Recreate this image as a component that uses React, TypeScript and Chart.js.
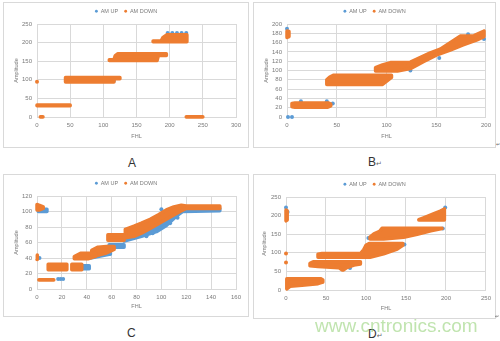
import React, { useEffect, useRef } from 'react';
import { Chart, registerables } from 'chart.js';

Chart.register(...registerables);

type Pt = [number, number];

const SERIES = ['AM UP', 'AM DOWN'];
const X_TITLE = 'FHL';
const Y_TITLE = 'Amplitude';

// ---------- Panel A ----------
const A_X_TICKS = [0, 50, 100, 150, 200, 250, 300];
const A_Y_TICKS = [0, 50, 100, 150, 200, 250];
const A_DOWN_BANDS: Pt[][] = [
  [[0, 30], [0, 32], [50, 32], [50, 30]],
  [[5, 0], [5, 0.5], [9, 0.5], [9, 0]],
  [[43, 94], [43, 106], [125, 106], [125, 103], [116, 103], [116, 94]],
  [[109, 152], [109, 154], [116, 154], [118, 165], [122, 170], [195, 170], [195, 165], [183, 165], [181, 152]],
  [[175, 202], [175, 204], [187, 204], [190, 214], [196, 221], [226, 221], [226, 202]],
  [[225, 0], [225, 0.5], [250, 0.5], [250, 0]],
];
const A_DOWN_DOTS: Pt[] = [[0, 95]];
const A_UP_BANDS: Pt[][] = [
  [[44, 96], [44, 104], [116, 104], [116, 96]],
];
const A_UP_DOTS: Pt[] = [[197, 226], [204, 226], [211, 226], [218, 226], [225, 226]];

// ---------- Panel B ----------
const B_X_TICKS = [0, 50, 100, 150, 200];
const B_Y_TICKS = [0, 20, 40, 60, 80, 100, 120, 140, 160, 180, 200];
const B_DOWN_BANDS: Pt[][] = [
  [[0, 171], [0, 185], [2, 184], [2, 173]],
  [[5, 22], [5, 29], [8, 30], [42, 30], [44, 28], [44, 24], [41, 21], [8, 21]],
  [[40, 70], [40, 80], [43, 86], [47, 90], [105, 90], [105, 85], [96, 70]],
  [[89, 99], [89, 106], [96, 112], [104, 117], [124, 118], [144, 138], [154, 146], [159, 153], [174, 174], [188, 175],
   [198, 185], [198, 173], [191, 166], [177, 155], [164, 144], [150, 133], [137, 119], [124, 104], [111, 99]],
];
const B_DOWN_DOTS: Pt[] = [];
const B_UP_BANDS: Pt[][] = [];
const B_UP_DOTS: Pt[] = [[1, 0], [5, 0], [0, 190], [14, 34], [40, 34], [46, 29], [124, 100], [153, 127], [198, 168], [182, 178]];

// ---------- Panel C ----------
const C_X_TICKS = [0, 20, 40, 60, 80, 100, 120, 140, 160];
const C_Y_TICKS = [0, 20, 40, 60, 80, 100, 120];
const C_DOWN_BANDS: Pt[][] = [
  [[0, 102], [0, 109], [2, 108], [5, 106], [5, 104], [2, 102]],
  [[0, 38], [0, 44], [0.5, 44], [0.5, 38]],
  [[1.5, 11.5], [1.5, 12], [13.5, 12], [13.5, 11.5]],
  [[9, 25], [9, 32], [24, 32], [24, 25]],
  [[28, 25], [28, 32], [36, 32], [36, 25]],
  [[30, 39], [30, 42], [35, 46], [47, 46], [47, 42], [41, 39]],
  [[44, 43], [44, 50], [49, 54], [56, 55], [62, 55], [62, 51], [55, 46], [48, 43]],
  [[57, 63], [57, 70], [70, 70], [70, 63]],
  [[71, 66], [71, 77], [78, 81], [84, 85], [91, 90], [98, 96], [104, 102], [110, 106], [116, 108], [120, 107], [147, 107],
   [147, 104], [120, 104], [115, 100], [104, 90], [91, 78], [84, 72], [78, 68]],
];
const C_DOWN_DOTS: Pt[] = [];
const C_UP_BANDS: Pt[][] = [
  [[1, 100], [1, 103], [8, 103], [8, 100]],
  [[36, 26], [36, 30], [42, 30], [42, 26]],
  [[43, 40], [43, 43], [59, 48], [59, 45]],
  [[58, 54], [58, 57], [70, 57], [70, 54]],
  [[70, 62], [84, 68], [96, 74], [104, 82], [112, 94], [117, 100], [147, 101], [147, 104], [116, 104], [108, 96],
   [100, 88], [90, 80], [80, 74], [70, 68]],
];
const C_UP_DOTS: Pt[] = [[2, 40], [17, 13], [19, 13], [21, 13], [88, 68], [93, 72], [100, 103], [107, 85], [113, 92]];

// ---------- Panel D ----------
const D_X_TICKS = [0, 50, 100, 150, 200, 250];
const D_Y_TICKS = [0, 50, 100, 150, 200, 250];
const D_DOWN_BANDS: Pt[][] = [
  [[0, 186], [0, 215], [1.5, 213], [1.5, 188]],
  [[1, 3], [1, 30], [10, 30], [44, 30], [46, 27], [46, 21], [40, 17], [20, 13], [5, 10]],
  [[30, 65], [30, 72], [34, 76], [93, 76], [93, 70], [85, 67], [76, 60], [72, 54], [70, 54], [66, 60], [40, 63]],
  [[40, 88], [40, 96], [45, 98], [93, 98], [97, 108], [100, 120], [104, 125], [146, 125], [146, 120], [139, 110], [122, 97], [105, 88]],
  [[105, 137], [105, 142], [110, 151], [117, 158], [120, 166], [195, 166], [195, 165], [181, 159], [164, 150], [147, 142], [122, 137]],
  [[166, 188], [166, 189], [172, 194], [185, 205], [193, 212], [198, 218], [198, 188]],
];
const D_DOWN_DOTS: Pt[] = [[0, 98], [0, 74]];
const D_UP_BANDS: Pt[][] = [];
const D_UP_DOTS: Pt[] = [[0, 222], [2, 210], [80, 59], [103, 140], [130, 108], [148, 122], [196, 165], [199, 222]];

// ---------- styling / layout ----------
const BLUE = '#5B9BD5';
const ORANGE = '#ED7D31';
const GRID = '#d9d9d9';
const TEXT = '#7a7a7a';
const FONT = '"Liberation Sans", Arial, sans-serif';
const FONT_SIZE = 5.5;

type PanelSpec = {
  box: { x: number; y: number; w: number; h: number };
  pad: number; top: number; yw: number; xh: number; ytp: number; xtp: number;
  xTicks: number[]; yTicks: number[];
  downBands: Pt[][]; downDots: Pt[]; upBands: Pt[][]; upDots: Pt[];
};

const PANELS: PanelSpec[] = [
  { box: { x: 3, y: 2, w: 246, h: 146 }, pad: 13, top: 6.5, yw: 21, xh: 31, ytp: -3.3, xtp: 8.7,
    xTicks: A_X_TICKS, yTicks: A_Y_TICKS, downBands: A_DOWN_BANDS, downDots: A_DOWN_DOTS, upBands: A_UP_BANDS, upDots: A_UP_DOTS },
  { box: { x: 253, y: 2, w: 243, h: 146 }, pad: 10, top: 6.5, yw: 24, xh: 31, ytp: -0.3, xtp: 8.7,
    xTicks: B_X_TICKS, yTicks: B_Y_TICKS, downBands: B_DOWN_BANDS, downDots: B_DOWN_DOTS, upBands: B_UP_BANDS, upDots: B_UP_DOTS },
  { box: { x: 3, y: 174, w: 246, h: 143 }, pad: 13, top: 6.5, yw: 21, xh: 28, ytp: -3.3, xtp: 7.4,
    xTicks: C_X_TICKS, yTicks: C_Y_TICKS, downBands: C_DOWN_BANDS, downDots: C_DOWN_DOTS, upBands: C_UP_BANDS, upDots: C_UP_DOTS },
  { box: { x: 253, y: 174, w: 243, h: 145 }, pad: 10, top: 7.5, yw: 23, xh: 29, ytp: -2.3, xtp: 7.7,
    xTicks: D_X_TICKS, yTicks: D_Y_TICKS, downBands: D_DOWN_BANDS, downDots: D_DOWN_DOTS, upBands: D_UP_BANDS, upDots: D_UP_DOTS },
];

const toXY = (pts: Pt[]) => pts.map(([x, y]) => ({ x, y }));

function bandDataset(poly: Pt[], color: string, order: number) {
  return {
    data: toXY([...poly, poly[0]]),
    showLine: true,
    fill: 'shape',
    backgroundColor: color,
    borderColor: color,
    borderWidth: 3.5,
    borderJoinStyle: 'round',
    borderCapStyle: 'round',
    pointRadius: 0,
    pointHoverRadius: 0,
    tension: 0,
    clip: false,
    order,
  };
}

function dotDataset(dots: Pt[], color: string, order: number) {
  return {
    data: toXY(dots),
    showLine: false,
    backgroundColor: color,
    borderColor: color,
    borderWidth: 0,
    pointRadius: 2,
    pointHoverRadius: 2,
    clip: false,
    order,
  };
}

function buildConfig(p: PanelSpec): any {
  const datasets: any[] = [
    ...p.upBands.map((b) => bandDataset(b, BLUE, 2)),
    dotDataset(p.upDots, BLUE, 2),
    ...p.downBands.map((b) => bandDataset(b, ORANGE, 1)),
    dotDataset(p.downDots, ORANGE, 1),
  ];
  const textFont = { family: FONT, size: FONT_SIZE };
  const tickFont = { family: FONT, size: 6 };
  return {
    type: 'scatter',
    data: { datasets },
    options: {
      animation: false,
      responsive: false,
      devicePixelRatio: 1,
      events: [],
      layout: { padding: { left: p.pad, right: p.pad, top: p.top, bottom: 0 } },
      plugins: {
        tooltip: { enabled: false },
        legend: {
          display: true,
          position: 'top',
          labels: {
            font: textFont,
            color: TEXT,
            usePointStyle: true,
            boxWidth: 3,
            boxHeight: 2,
            padding: 0,
            generateLabels: () => [
              { text: SERIES[0] + '    ', fillStyle: BLUE, strokeStyle: BLUE, lineWidth: 0, pointStyle: 'circle', hidden: false, datasetIndex: 0, fontColor: TEXT },
              { text: SERIES[1], fillStyle: ORANGE, strokeStyle: ORANGE, lineWidth: 0, pointStyle: 'circle', hidden: false, datasetIndex: 1, fontColor: TEXT },
            ],
          },
        },
      },
      scales: {
        x: {
          type: 'linear',
          min: p.xTicks[0],
          max: p.xTicks[p.xTicks.length - 1],
          ticks: { stepSize: p.xTicks[1] - p.xTicks[0], color: TEXT, font: tickFont, padding: 5, maxRotation: 0, autoSkip: false },
          grid: { color: GRID, drawTicks: false, lineWidth: 1 },
          border: { color: GRID },
          title: { display: true, text: X_TITLE, color: TEXT, font: textFont, padding: { top: 0, bottom: p.xtp } },
          afterFit: (s: any) => { s.height = p.xh; },
        },
        y: {
          type: 'linear',
          min: p.yTicks[0],
          max: p.yTicks[p.yTicks.length - 1],
          ticks: { stepSize: p.yTicks[1] - p.yTicks[0], color: TEXT, font: tickFont, padding: 5, autoSkip: false },
          grid: { color: GRID, drawTicks: false, lineWidth: 1 },
          border: { display: false },
          title: { display: true, text: Y_TITLE, color: TEXT, font: textFont, padding: { top: p.ytp, bottom: 0 } },
          afterFit: (s: any) => { s.width = p.yw; },
        },
      },
    },
  };
}

function Panel({ spec }: { spec: PanelSpec }) {
  const ref = useRef<HTMLCanvasElement>(null);
  useEffect(() => {
    const chart = new Chart(ref.current as HTMLCanvasElement, buildConfig(spec));
    return () => chart.destroy();
  }, [spec]);
  const { x, y, w, h } = spec.box;
  return (
    <>
      <div style={{ position: 'absolute', left: x, top: y, width: w, height: h, border: `1px solid ${GRID}`, boxSizing: 'border-box' }} />
      <canvas ref={ref} width={w} height={h} style={{ position: 'absolute', left: x, top: y, width: w, height: h }} />
    </>
  );
}

const labelStyle = (left: number, top: number): React.CSSProperties => ({
  position: 'absolute', left, top, fontFamily: FONT, fontSize: 12, lineHeight: '12px', color: '#333', whiteSpace: 'nowrap',
});
const arrowStyle: React.CSSProperties = { fontFamily: '"DejaVu Sans", sans-serif', fontSize: 7, color: '#666' };

export default function App() {
  return (
    <div style={{ position: 'absolute', left: 0, top: 0, width: 500, height: 341, background: '#fff', overflow: 'hidden' }}>
      {PANELS.map((p, i) => <Panel key={i} spec={p} />)}
      <div style={labelStyle(128, 157)}>A</div>
      <div style={labelStyle(368, 156)}>B<span style={arrowStyle}>↵</span></div>
      <div style={labelStyle(127, 327)}>C</div>
      <div style={labelStyle(368, 328)}>D<span style={arrowStyle}>↵</span></div>
      <div style={{ position: 'absolute', left: 496, top: 141, ...arrowStyle, fontSize: 5 }}>↵</div>
      <div style={{ position: 'absolute', left: 495, top: 313, ...arrowStyle, fontSize: 5 }}>↵</div>
      <div style={{ position: 'absolute', left: 315, top: 316, fontFamily: FONT, fontSize: 19, lineHeight: '19px', color: 'rgba(140, 205, 110, 0.55)', whiteSpace: 'nowrap' }}>
        www.cntronics.com
      </div>
    </div>
  );
}
